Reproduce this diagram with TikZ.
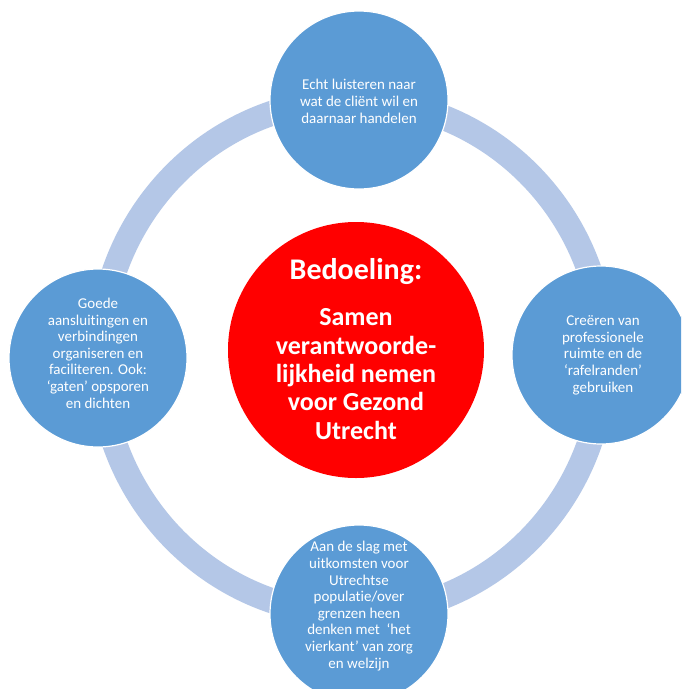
\documentclass[tikz,border=0pt]{standalone}
\usepackage{fontspec}
\setmainfont{Carlito}[Ligatures=NoCommon]
\definecolor{cblue}{HTML}{5B9BD5}
\definecolor{cring}{HTML}{B4C7E7}
\definecolor{cred}{HTML}{FF0000}
\begin{document}
\begin{tikzpicture}[x=1pt,y=-1pt,
  petal/.style={circle, fill=cblue, draw=white, line width=1.2pt, minimum size=178pt, inner sep=0pt},
  petaltext/.style={text=white, align=center, inner sep=0pt, anchor=base, font=\fontsize{15}{16.6}\selectfont},
  hub/.style={circle, fill=cred, minimum size=256pt, inner sep=0pt},
  hubtitle/.style={text=white, inner sep=0pt, anchor=base, font=\fontsize{30}{33}\selectfont\bfseries},
  hubtext/.style={text=white, align=center, inner sep=0pt, anchor=base, font=\fontsize{26}{28.3}\selectfont\bfseries}]
\useasboundingbox (0,0) rectangle (681,689);
\clip (0,0) rectangle (681,689);
\fill[white] (0,0) rectangle (681,689);
\coordinate (ringc) at (352,357);
\draw[cring, line width=25pt] (ringc) ellipse [x radius=252pt, y radius=257pt];
\node[petal] (top) at (359,100) {};
\node[petal] (left) at (98,358) {};
\node[petal] (right) at (601,355) {};
\node[petal] (bottom) at (359,614) {};
\node[hub] (hub) at (356,350) {};
\node[petaltext] (toptext) at (359,123) {Echt luisteren naar\\wat de cliënt wil en\\daarnaar handelen};
\node[petaltext] (lefttext) at (98,408) {Goede\\aansluitingen en\\verbindingen\\organiseren en\\faciliteren. Ook:\\‘gaten’ opsporen\\en dichten};
\node[petaltext] (righttext) at (603,392) {Creëren van\\professionele\\ruimte en de\\‘rafelranden’\\gebruiken};
\node[petaltext] (bottomtext) at (359,668) {Aan de slag met\\uitkomsten voor\\Utrechtse\\populatie/over\\grenzen heen\\denken met\ \ ‘het\\vierkant’ van zorg\\en welzijn};
\node[hubtitle] (hubtitle) at (356,279) {Bedoeling:};
\node[hubtext] (hubtext) at (356,439) {Samen\\verantwoorde-\\lijkheid nemen\\voor Gezond\\Utrecht};
\end{tikzpicture}
\end{document}
